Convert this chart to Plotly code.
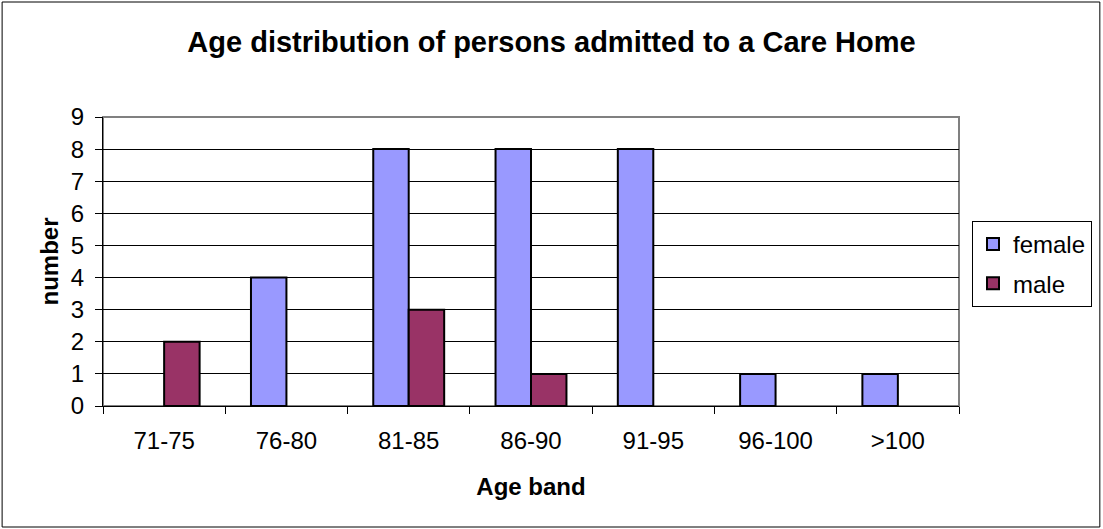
import plotly.graph_objects as go

age_bands = ["71-75", "76-80", "81-85", "86-90", "91-95", "96-100", ">100"]
female = [0, 4, 8, 8, 8, 1, 1]
male = [2, 0, 3, 1, 0, 0, 0]
y_ticks = list(range(0, 10))

W, H = 1103, 529
L, R, T, B = 103, 960, 117, 406
pw, ph = R - L, B - T


def hide_zero(vals):
    return [v if v != 0 else None for v in vals]


fig = go.Figure()
fig.add_trace(go.Bar(x=age_bands, y=hide_zero(female), name="female", legendgroup="f",
                     marker=dict(color="#9999FF", line=dict(color="black", width=2))))
fig.add_trace(go.Bar(x=age_bands, y=hide_zero(male), name="male", legendgroup="m",
                     marker=dict(color="#993366", line=dict(color="black", width=2))))

font = "Arial, Liberation Sans, sans-serif"
fs = 24

fig.update_layout(
    width=W, height=H,
    margin=dict(l=L, r=W - R, t=T, b=H - B, pad=0),
    paper_bgcolor="white", plot_bgcolor="white",
    font=dict(family=font, color="black", size=fs),
    barmode="group", bargap=0.42, bargroupgap=0,
    title=dict(text="<b>Age distribution of persons admitted to a Care Home</b>",
               x=551.5 / W, xref="container", xanchor="center",
               y=1 - 42 / H, yref="container", yanchor="middle",
               font=dict(size=29, family=font, color="black")),
    legend=dict(x=(972 - L) / pw, xanchor="left", y=(B - 221) / ph, yanchor="top",
                bordercolor="black", borderwidth=1, bgcolor="white",
                font=dict(size=fs, family=font), traceorder="grouped",
                tracegroupgap=5, itemwidth=30),
    showlegend=True,
)

fig.update_xaxes(
    type="category", tickson="boundaries", ticks="outside", ticklen=7,
    tickcolor="black", tickwidth=1, showline=True, linecolor="black", linewidth=1,
    showgrid=False, tickfont=dict(size=fs, family=font), ticklabelstandoff=13,
    title=dict(text="<b>Age band</b>", font=dict(size=fs, family=font), standoff=25),
)
fig.update_yaxes(
    range=[0, 9], tickvals=y_ticks, ticks="outside", ticklen=7, tickcolor="black",
    tickwidth=1, showline=True, linecolor="black", linewidth=1,
    showgrid=True, gridcolor="black", gridwidth=1, zeroline=False,
    tickfont=dict(size=fs, family=font), ticklabelstandoff=6,
    title=dict(text="<b>number</b>", font=dict(size=fs, family=font), standoff=5),
)

# plot-area border (gray, top/right)
fig.add_shape(type="rect", xref="paper", yref="paper", x0=0, x1=1, y0=0, y1=1,
              line=dict(color="#808080", width=2), layer="below")
# chart outer border
fig.add_shape(type="rect", xref="paper", yref="paper",
              x0=(2 - L) / pw, x1=(1101 - L) / pw, y0=(B - 527) / ph, y1=(B - 2) / ph,
              line=dict(color="black", width=1))

fig.write_html("out.html", config={"displayModeBar": False},
               post_script="document.body.style.margin='0';document.body.style.padding='0';document.body.style.overflow='hidden';")
